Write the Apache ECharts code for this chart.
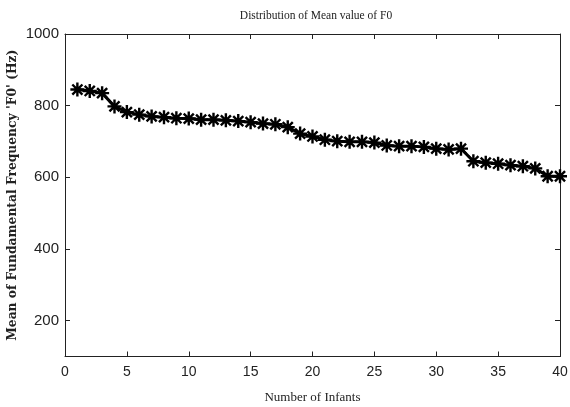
<!DOCTYPE html>
<html>
<head>
<meta charset="utf-8">
<script src="https://cdn.jsdelivr.net/npm/echarts@6/dist/echarts.min.js"></script>
<style>
html,body{margin:0;padding:0;background:#fff;}
#c{width:570px;height:407px;}
</style>
</head>
<body>
<div id="c"></div>
<script>
var infants = [];
for (var i = 1; i <= 40; i++) infants.push(i);
var meanF0 = [845, 841, 835, 798, 782, 775, 770, 768, 765, 764,
              761, 761, 759, 757, 754, 750, 748, 740, 722, 714,
              705, 701, 699, 699, 697, 689, 687, 687, 685, 680,
              678, 680, 645, 641, 638, 634, 631, 625, 603, 603];
var xTicks = [0, 5, 10, 15, 20, 25, 30, 35, 40];
var yTicks = [200, 400, 600, 800, 1000];

var titleText = 'Distribution of Mean value of F0';
var xName = 'Number of Infants';
var yName = "Mean of Fundamental Frequency 'F0' (Hz)";

var points = infants.map(function (x, k) { return [x, meanF0[k]]; });
var tickFont = "'Liberation Sans Narrow', 'Liberation Sans', sans-serif";
var serif = "'Liberation Serif', 'DejaVu Serif', serif";
var axisCol = '#222';
function plain(v) { return String(v); }

var chart = echarts.init(document.getElementById('c'));
chart.setOption({
  animation: false,
  backgroundColor: '#fff',
  title: {
    text: titleText,
    left: 311, top: 5, textAlign: 'center',
    textStyle: { fontFamily: serif, fontSize: 11.5, fontWeight: 'normal', color: '#222' }
  },
  grid: { left: 65, right: 10, top: 34, bottom: 50.5, show: false,
          containLabel: false, outerBoundsMode: 'none' },
  xAxis: [{
    type: 'value', min: 0, max: 40, interval: 5, position: 'bottom',
    name: xName, nameLocation: 'middle', nameGap: 35, nameMoveOverlap: false,
    nameTextStyle: { fontFamily: serif, fontSize: 13, color: '#222' },
    axisLine: { show: true, onZero: false, lineStyle: { color: axisCol, width: 1 } },
    axisTick: { show: true, inside: true, length: 5, lineStyle: { color: axisCol } },
    axisLabel: { show: true, margin: 9, fontFamily: tickFont, fontSize: 14, color: '#222',
                 customValues: xTicks, formatter: plain },
    splitLine: { show: false }
  }, {
    type: 'value', min: 0, max: 40, interval: 5, position: 'top',
    axisLine: { show: true, onZero: false, lineStyle: { color: axisCol, width: 1 } },
    axisTick: { show: true, inside: true, length: 5, lineStyle: { color: axisCol } },
    axisLabel: { show: false },
    splitLine: { show: false }
  }],
  yAxis: [{
    type: 'value', min: 100, max: 1000, position: 'left',
    name: yName, nameLocation: 'middle', nameGap: 46, nameRotate: 90, nameMoveOverlap: false,
    nameTextStyle: { fontFamily: "'DejaVu Serif', serif", fontSize: 12.3, fontWeight: 'bold', color: '#222' },
    axisLine: { show: true, onZero: false, lineStyle: { color: axisCol, width: 1 } },
    axisTick: { show: true, inside: true, length: 5, lineStyle: { color: axisCol }, customValues: yTicks },
    axisLabel: { show: true, margin: 6, fontFamily: tickFont, fontSize: 15, color: '#222',
                 customValues: yTicks, formatter: plain },
    splitLine: { show: false }
  }, {
    type: 'value', min: 100, max: 1000, position: 'right',
    axisLine: { show: true, onZero: false, lineStyle: { color: axisCol, width: 1 } },
    axisTick: { show: true, inside: true, length: 5, lineStyle: { color: axisCol }, customValues: yTicks },
    axisLabel: { show: false },
    splitLine: { show: false }
  }],
  series: [{
    type: 'line',
    xAxisIndex: 0, yAxisIndex: 0,
    data: points,
    lineStyle: { color: '#000', width: 3 },
    symbol: 'path://M0,-1L0,1M-1,0L1,0M-0.72,-0.72L0.72,0.72M-0.72,0.72L0.72,-0.72',
    symbolSize: 14,
    showAllSymbol: true,
    itemStyle: { color: '#000', borderColor: '#000', borderWidth: 2.4 },
    z: 3
  }]
});
</script>
</body>
</html>
